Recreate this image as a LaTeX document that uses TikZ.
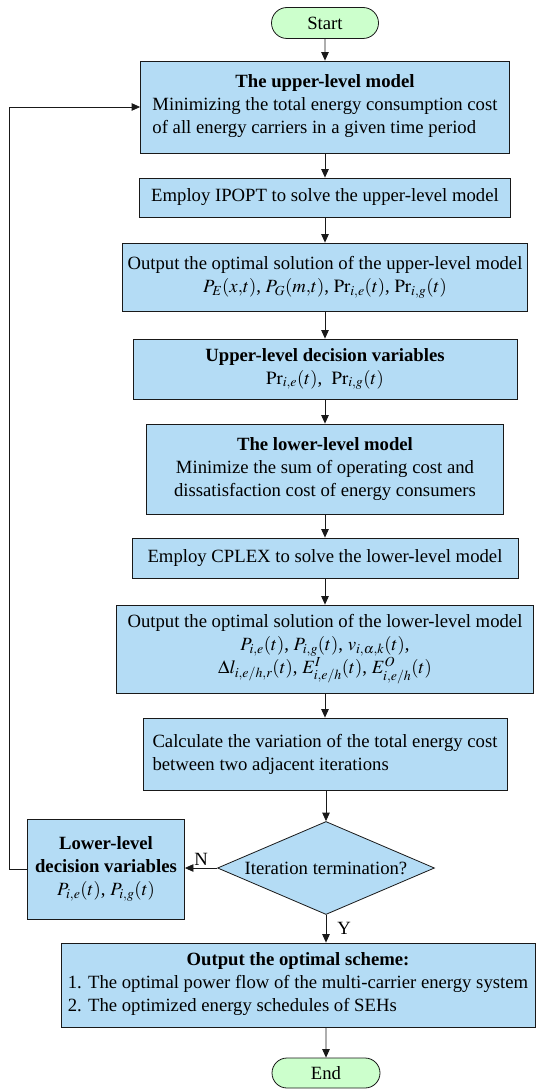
\documentclass[tikz,border=0pt]{standalone}
\usepackage{mathptmx}
\usepackage{fontspec}
\setmainfont{Liberation Serif}
\usetikzlibrary{arrows.meta,shapes.geometric,shapes.misc}
\definecolor{boxblue}{RGB}{180,220,245}
\definecolor{termgreen}{RGB}{204,255,204}

\begin{document}
\begin{tikzpicture}[x=1pt,y=-1pt]
    \tikzstyle{every node}+=[font=\fontsize{18.7}{23}\selectfont, inner sep=2pt]
    \tikzstyle{blk}=[draw=black!90, line width=0.8pt, fill=boxblue, align=center]
    \tikzstyle{term}=[rounded rectangle, draw=black!90, line width=0.8pt, fill=termgreen]
    \tikzstyle{arr}=[draw=black!90, line width=0.8pt, -{Triangle[length=8.5pt,width=7.5pt]}]
    \useasboundingbox (0,0) rectangle (536,1089);
    % main column
    \node[term, minimum width=111, minimum height=31] (start) at (325,23) {Start};
    \node[blk, minimum width=369, minimum height=92] (upper) at (325,107) {\textbf{The upper-level model}\\\begin{tabular}[t]{@{}l@{}}Minimizing the total energy consumption cost\\of all energy carriers in a given time period\end{tabular}};
    \node[blk, minimum width=371, minimum height=39] (ipopt) at (325,197.5) {Employ IPOPT to solve the upper-level model};
    \node[blk, minimum width=405, minimum height=68] (outup) at (325,277) {Output the optimal solution of the upper-level model\\$P_E(x{,}t)$, $P_G(m{,}t)$, $\mathrm{Pr}_{i,e}(t)$, $\mathrm{Pr}_{i,g}(t)$};
    \node[blk, minimum width=384, minimum height=60] (updec) at (325,369) {\textbf{Upper-level decision variables}\\$\mathrm{Pr}_{i,e}(t)$,~ $\mathrm{Pr}_{i,g}(t)$};
    \node[blk, minimum width=357, minimum height=90] (lowmod) at (325,469) {\textbf{The lower-level model}\\Minimize the sum of operating cost and\\dissatisfaction cost of energy consumers};
    \node[blk, minimum width=386, minimum height=40] (cplex) at (325,558) {Employ CPLEX to solve the lower-level model};
    \node[blk, minimum width=417, minimum height=88] (outlow) at (325,649) {Output the optimal solution of the lower-level model\\$P_{i,e}(t)$, $P_{i,g}(t)$, $v_{i,\alpha,k}(t)$,\\$\Delta l_{i,e/h,r}(t)$, $E^{I}_{i,e/h}(t)$, $E^{O}_{i,e/h}(t)$};
    \node[blk, align=left, minimum width=364, minimum height=72] (calc) at (325,754) {Calculate the variation of the total energy cost\\between two adjacent iterations};
    \node[blk, diamond, shape aspect=2.33, minimum width=217, minimum height=93, inner sep=0pt] (iter) at (326,868) {Iteration termination?};
    \node[blk, minimum width=157, minimum height=100] (lowdec) at (106,869) {\textbf{Lower-level}\\\textbf{decision variables}\\$P_{i,e}(t)$, $P_{i,g}(t)$};
    \node[blk, minimum width=474, minimum height=84] (final) at (298,985) {\textbf{Output the optimal scheme:}\\\begin{tabular}[t]{@{}l@{}}1. The optimal power flow of the multi-carrier energy system\\2. The optimized energy schedules of SEHs\end{tabular}};
    \node[term, minimum width=112, minimum height=30] (end) at (326,1073) {End};
    % connectors
    \draw[arr] (start) -- (upper);
    \draw[arr] (upper) -- (ipopt);
    \draw[arr] (ipopt) -- (outup);
    \draw[arr] (outup) -- (updec);
    \draw[arr] (updec) -- (lowmod);
    \draw[arr] (lowmod) -- (cplex);
    \draw[arr] (cplex) -- (outlow);
    \draw[arr] (outlow) -- (calc);
    \draw[arr] (calc.south -| iter) -- (iter);
    \draw[arr] (iter.west) -- (iter.west -| lowdec.east) node[midway, above] {N};
    \draw[arr] (iter) -- (iter |- final.north) node[midway, right, xshift=9pt] {Y};
    \draw[arr] (final.south -| end) -- (end);
    % feedback loop
    \draw[arr] (lowdec.west) -- ++(-18,0) |- (upper.west);
\end{tikzpicture}
\end{document}
